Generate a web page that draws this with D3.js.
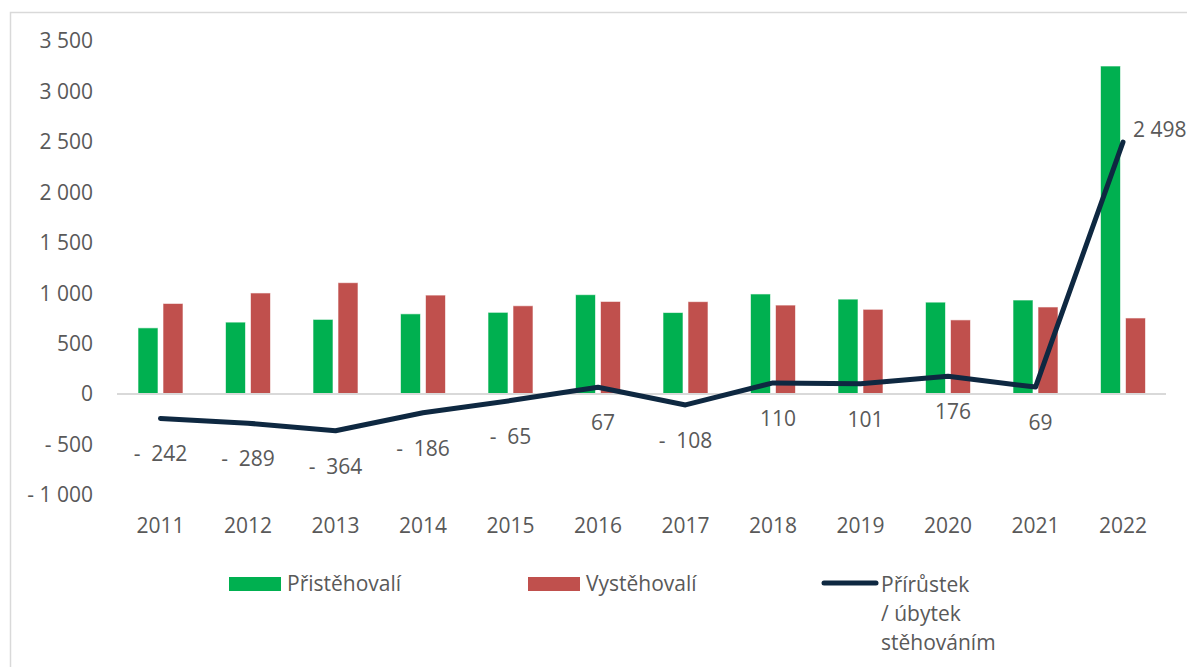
<!DOCTYPE html>
<html>
<head>
<meta charset="utf-8">
<script src="https://cdn.jsdelivr.net/npm/d3@7"></script>
<style>
  body { margin: 0; background: #fff; }
  svg { display: block; font-family: "Open Sans", sans-serif; }
</style>
</head>
<body>
<div id="chart"></div>
<script>
const years = ["2011","2012","2013","2014","2015","2016","2017","2018","2019","2020","2021","2022"];
const prist = [656, 713, 740, 795, 810, 985, 808, 992, 941, 911, 932, 3252];
const vyst = [898, 1002, 1104, 981, 875, 918, 916, 882, 840, 735, 863, 754];
const net = [-242, -289, -364, -186, -65, 67, -108, 110, 101, 176, 69, 2498];
const yTicks = [-1000, -500, 0, 500, 1000, 1500, 2000, 2500, 3000, 3500];

const width = 1187, height = 667;
const colors = { prist: "#00b050", vyst: "#c0504d", net: "#0e2841", text: "#595959", axis: "#d9d9d9" };

const svg = d3.select("#chart").append("svg")
  .attr("width", width).attr("height", height);

// outer frame
svg.append("rect")
  .attr("x", 10.5).attr("y", 12.5)
  .attr("width", 1300).attr("height", 800)
  .attr("fill", "none").attr("stroke", colors.axis).attr("stroke-width", 1.5);

const x = d3.scalePoint().domain(years).range([160.5, 1123]);
const inner = d3.scaleBand().domain(["prist", "vyst"]).range([-22.5, 22.5]).paddingInner(0.2);
const y = d3.scaleLinear().domain([-1000, 3500]).range([494.9, 41]);

const fmt = v => d3.format(",")(Math.abs(v)).replace(/,/g, " ");

// y tick labels
svg.append("g")
  .selectAll("text")
  .data(yTicks)
  .join("text")
  .attr("x", 93)
  .attr("y", d => y(d))
  .attr("dy", "0.35em")
  .attr("text-anchor", "end")
  .attr("fill", colors.text)
  .style("font-size", "21px")
  .style("white-space", "pre")
  .text(d => (d < 0 ? "- " : "") + fmt(d));

// bars
const rows = years.map((yr, i) => ({ year: yr, prist: prist[i], vyst: vyst[i], net: net[i] }));
const grp = svg.append("g")
  .selectAll("g")
  .data(rows)
  .join("g")
  .attr("transform", d => `translate(${x(d.year)},0)`);

grp.selectAll("rect")
  .data(d => ["prist", "vyst"].map(k => ({ key: k, value: d[k] })))
  .join("rect")
  .attr("x", d => inner(d.key))
  .attr("width", inner.bandwidth())
  .attr("y", d => y(d.value))
  .attr("height", d => y(0) - y(d.value))
  .attr("fill", d => colors[d.key])
  .attr("stroke", "#ffffff")
  .attr("stroke-opacity", 0.6)
  .attr("stroke-width", 1);

// zero axis line
svg.append("line")
  .attr("x1", 117).attr("x2", 1166)
  .attr("y1", y(0)).attr("y2", y(0))
  .attr("stroke", colors.axis).attr("stroke-width", 2);

// x tick labels
svg.append("g")
  .selectAll("text")
  .data(years)
  .join("text")
  .attr("x", d => x(d))
  .attr("y", 533)
  .attr("text-anchor", "middle")
  .attr("fill", colors.text)
  .style("font-size", "21px")
  .text(d => d);

// net line
const line = d3.line().x(d => x(d.year)).y(d => y(d.net));
svg.append("path")
  .datum(rows)
  .attr("d", line)
  .attr("fill", "none")
  .attr("stroke", colors.net)
  .attr("stroke-width", 5)
  .attr("stroke-linejoin", "round")
  .attr("stroke-linecap", "round");

// net labels
svg.append("g")
  .selectAll("text")
  .data(rows)
  .join("text")
  .attr("x", (d, i) => i === rows.length - 1 ? x(d.year) + 10 : x(d.year) + (d.net > 0 ? 5 : 0))
  .attr("y", (d, i) => i === rows.length - 1 ? y(d.net) - 5 : y(d.net) + 43)
  .attr("text-anchor", (d, i) => i === rows.length - 1 ? "start" : "middle")
  .attr("fill", colors.text)
  .style("font-size", "21px")
  .style("white-space", "pre")
  .text(d => (d.net < 0 ? "-  " : "") + fmt(d.net));

// legend
const legend = svg.append("g");
[
  { key: "prist", name: "Přistěhovalí", x: 229 },
  { key: "vyst", name: "Vystěhovalí", x: 528 }
].forEach(d => {
  legend.append("rect")
    .attr("x", d.x).attr("y", 577)
    .attr("width", 52).attr("height", 14)
    .attr("fill", colors[d.key]);
  legend.append("text")
    .attr("x", d.x + 58).attr("y", 591)
    .attr("fill", colors.text)
    .style("font-size", "21px")
    .text(d.name);
});

legend.append("line")
  .attr("x1", 824).attr("x2", 876)
  .attr("y1", 583).attr("y2", 583)
  .attr("stroke", colors.net).attr("stroke-width", 5)
  .attr("stroke-linecap", "round");

legend.append("text")
  .attr("fill", colors.text)
  .style("font-size", "21px")
  .selectAll("tspan")
  .data(["Přírůstek", "/ úbytek", "stěhováním"])
  .join("tspan")
  .attr("x", 881)
  .attr("y", (d, i) => 592 + i * 29)
  .text(d => d);
</script>
</body>
</html>
